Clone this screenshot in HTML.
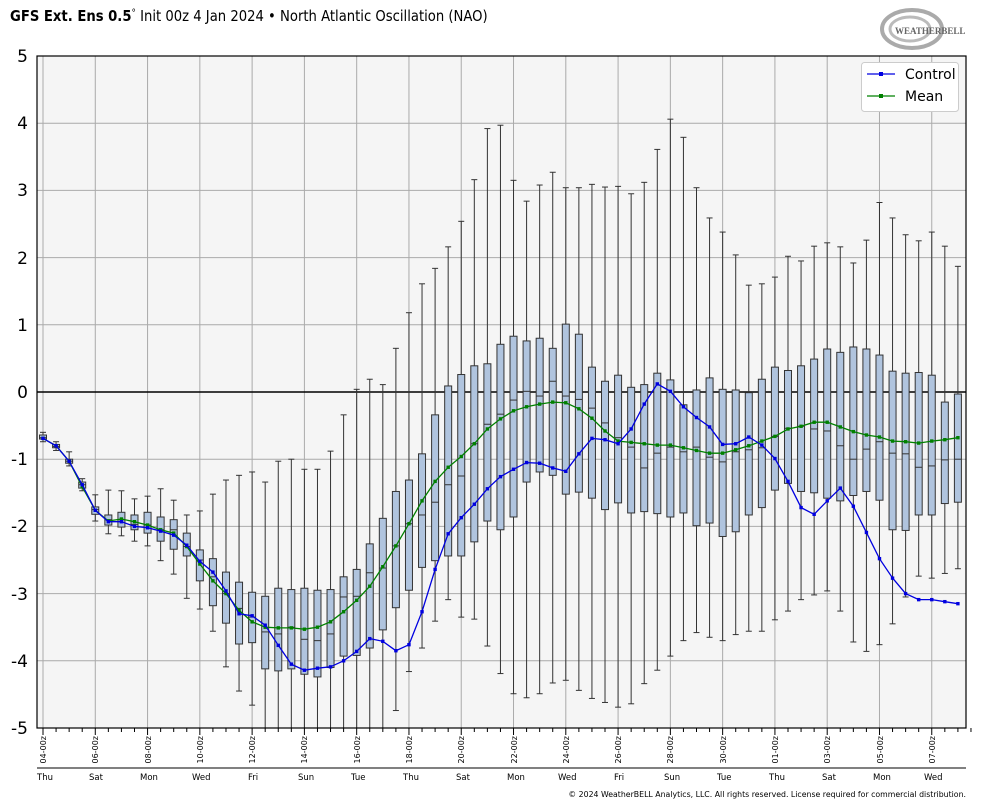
<!DOCTYPE html>
<html><head><meta charset="utf-8"><style>
html,body{margin:0;padding:0;background:#fff;}
svg{display:block;font-family:"DejaVu Sans","Liberation Sans",sans-serif;}
</style></head><body>
<svg id="s" width="984" height="808" viewBox="0 0 984 808" xmlns="http://www.w3.org/2000/svg">
<rect width="984" height="808" fill="#fff"/>
<text transform="translate(10,21) scale(0.88,1)" font-size="15" fill="#000"><tspan font-weight="bold">GFS Ext.  Ens 0.5</tspan><tspan font-size="10" dy="-5">°</tspan><tspan dy="5"> Init 00z 4 Jan 2024 • North Atlantic Oscillation (NAO)</tspan></text>
<g id="logo">
<ellipse cx="912" cy="29" rx="30" ry="19" fill="none" stroke="#aaa" stroke-width="4"/>
<ellipse cx="910" cy="29" rx="20" ry="12" fill="none" stroke="#bbb" stroke-width="3"/>
<text x="895" y="34" font-size="9" font-family="Liberation Serif,serif" fill="#666" font-weight="bold">WEATHERBELL</text>
</g>
<rect x="37" y="56" width="929" height="672" fill="#f5f5f5"/>
<g id="grid" stroke="#aaa" stroke-width="1"></g>
<line x1="37" y1="392" x2="966" y2="392" stroke="#000" stroke-width="1.5"/>
<g id="boxes"></g>
<g id="lines"></g>
<rect x="37" y="56" width="929" height="672" fill="none" stroke="#000" stroke-width="1.2"/>
<g font-size="17" fill="#000" text-anchor="end">
<text x="28" y="62">5</text><text x="28" y="129">4</text><text x="28" y="196">3</text><text x="28" y="264">2</text><text x="28" y="331">1</text><text x="28" y="398">0</text><text x="28" y="465">-1</text><text x="28" y="532">-2</text><text x="28" y="600">-3</text><text x="28" y="667">-4</text><text x="28" y="734">-5</text>
</g>
<g id="xt" stroke="#000"></g>
<line x1="37" y1="768" x2="966" y2="768" stroke="#000" stroke-width="1"/>
<g font-size="8" fill="#000" text-anchor="end">
<text transform="translate(46,736) rotate(-90)">04-00z</text>
<text transform="translate(98,736) rotate(-90)">06-00z</text>
<text transform="translate(151,736) rotate(-90)">08-00z</text>
<text transform="translate(203,736) rotate(-90)">10-00z</text>
<text transform="translate(255,736) rotate(-90)">12-00z</text>
<text transform="translate(307,736) rotate(-90)">14-00z</text>
<text transform="translate(360,736) rotate(-90)">16-00z</text>
<text transform="translate(412,736) rotate(-90)">18-00z</text>
<text transform="translate(464,736) rotate(-90)">20-00z</text>
<text transform="translate(517,736) rotate(-90)">22-00z</text>
<text transform="translate(569,736) rotate(-90)">24-00z</text>
<text transform="translate(621,736) rotate(-90)">26-00z</text>
<text transform="translate(673,736) rotate(-90)">28-00z</text>
<text transform="translate(726,736) rotate(-90)">30-00z</text>
<text transform="translate(778,736) rotate(-90)">01-00z</text>
<text transform="translate(830,736) rotate(-90)">03-00z</text>
<text transform="translate(883,736) rotate(-90)">05-00z</text>
<text transform="translate(935,736) rotate(-90)">07-00z</text>
</g>
<g font-size="8.5" fill="#000">
<text x="37" y="780">Thu</text><text x="89" y="780">Sat</text><text x="140" y="780">Mon</text><text x="192" y="780">Wed</text><text x="248" y="780">Fri</text><text x="298" y="780">Sun</text><text x="351" y="780">Tue</text><text x="403" y="780">Thu</text><text x="456" y="780">Sat</text><text x="507" y="780">Mon</text><text x="558" y="780">Wed</text><text x="614" y="780">Fri</text><text x="664" y="780">Sun</text><text x="717" y="780">Tue</text><text x="769" y="780">Thu</text><text x="822" y="780">Sat</text><text x="873" y="780">Mon</text><text x="924" y="780">Wed</text>
</g>
<text x="966" y="797" font-size="7.8" text-anchor="end" fill="#000">© 2024 WeatherBELL Analytics, LLC. All rights reserved. License required for commercial distribution.</text>
<g id="legend">
<rect x="861.5" y="62.5" width="97" height="49" rx="3" fill="#fff" stroke="#ccc"/>
<line x1="867" y1="74" x2="895" y2="74" stroke="#0000e0" stroke-width="1.3"/><rect x="879" y="72" width="4" height="4" fill="#0000e0"/>
<line x1="867" y1="96" x2="895" y2="96" stroke="#008000" stroke-width="1.3"/><rect x="879" y="94" width="4" height="4" fill="#008000"/>
<text x="905" y="79" font-size="14" fill="#000">Control</text>
<text x="905" y="101" font-size="14" fill="#000">Mean</text>
</g>
</svg>
<script>
var D=[
[-0.6,-0.64,-0.68,-0.7,-0.74,-0.69,-0.69],
[-0.74,-0.78,-0.81,-0.83,-0.87,-0.8,-0.8],
[-0.89,-1.0,-1.03,-1.06,-1.1,-1.03,-1.03],
[-1.29,-1.34,-1.38,-1.43,-1.47,-1.38,-1.41],
[-1.53,-1.71,-1.75,-1.82,-1.92,-1.76,-1.76],
[-1.46,-1.83,-1.9,-1.98,-2.11,-1.93,-1.92],
[-1.47,-1.79,-1.9,-2.01,-2.14,-1.93,-1.89],
[-1.59,-1.83,-1.97,-2.05,-2.22,-2.0,-1.93],
[-1.55,-1.79,-1.98,-2.1,-2.29,-2.02,-1.98],
[-1.44,-1.86,-2.05,-2.22,-2.51,-2.07,-2.05],
[-1.61,-1.9,-2.05,-2.34,-2.71,-2.13,-2.1],
[-1.83,-2.1,-2.3,-2.44,-3.07,-2.28,-2.3],
[-1.77,-2.35,-2.5,-2.81,-3.23,-2.52,-2.56],
[-1.52,-2.48,-2.75,-3.18,-3.56,-2.68,-2.81],
[-1.31,-2.68,-3.0,-3.44,-4.09,-2.96,-3.0],
[-1.24,-2.83,-3.22,-3.75,-4.45,-3.3,-3.25],
[-1.19,-2.98,-3.35,-3.73,-4.66,-3.33,-3.42],
[-1.34,-3.04,-3.57,-4.12,-5.5,-3.47,-3.5],
[-1.03,-2.92,-3.6,-4.15,-5.5,-3.77,-3.51],
[-1.0,-2.94,-3.5,-4.12,-5.5,-4.05,-3.51],
[-1.15,-2.92,-3.68,-4.2,-5.5,-4.14,-3.53],
[-1.15,-2.95,-3.7,-4.24,-5.5,-4.11,-3.5],
[-0.88,-2.94,-3.6,-4.1,-5.5,-4.09,-3.42],
[-0.34,-2.75,-3.05,-3.93,-5.5,-4.0,-3.27],
[0.04,-2.64,-3.04,-3.92,-5.5,-3.86,-3.1],
[0.19,-2.26,-2.69,-3.81,-5.5,-3.67,-2.89],
[0.11,-1.88,-2.62,-3.54,-5.5,-3.71,-2.6],
[0.65,-1.48,-2.29,-3.21,-4.74,-3.85,-2.29],
[1.18,-1.31,-1.96,-2.95,-4.16,-3.76,-1.96],
[1.61,-0.92,-1.83,-2.61,-3.81,-3.27,-1.62],
[1.84,-0.34,-1.64,-2.51,-3.41,-2.64,-1.33],
[2.16,0.09,-1.38,-2.44,-3.09,-2.11,-1.12],
[2.54,0.26,-1.25,-2.44,-3.35,-1.87,-0.96],
[3.16,0.39,-0.77,-2.23,-3.38,-1.67,-0.77],
[3.92,0.42,-0.48,-1.92,-3.78,-1.44,-0.55],
[3.97,0.71,-0.33,-2.05,-4.19,-1.26,-0.4],
[3.15,0.83,-0.12,-1.86,-4.49,-1.15,-0.28],
[2.84,0.76,0.01,-1.34,-4.55,-1.05,-0.22],
[3.08,0.8,-0.06,-1.19,-4.49,-1.06,-0.18],
[3.27,0.65,0.16,-1.24,-4.33,-1.13,-0.15],
[3.04,1.01,-0.06,-1.52,-4.29,-1.18,-0.16],
[3.04,0.86,-0.11,-1.49,-4.44,-0.92,-0.25],
[3.09,0.37,-0.24,-1.58,-4.56,-0.69,-0.39],
[3.05,0.16,-0.46,-1.75,-4.62,-0.71,-0.58],
[3.06,0.25,-0.68,-1.65,-4.69,-0.77,-0.73],
[2.95,0.07,-0.82,-1.8,-4.64,-0.55,-0.75],
[3.12,0.11,-1.13,-1.78,-4.34,-0.18,-0.77],
[3.61,0.28,-0.91,-1.81,-4.14,0.12,-0.79],
[4.06,0.18,-0.82,-1.86,-3.93,0.01,-0.79],
[3.79,-0.19,-0.89,-1.8,-3.7,-0.22,-0.83],
[3.04,0.03,-0.82,-1.99,-3.58,-0.38,-0.87],
[2.59,0.21,-0.97,-1.95,-3.65,-0.52,-0.91],
[2.38,0.04,-1.04,-2.15,-3.7,-0.78,-0.91],
[2.04,0.03,-0.89,-2.08,-3.61,-0.77,-0.86],
[1.59,-0.01,-0.86,-1.83,-3.56,-0.67,-0.8],
[1.61,0.19,-0.83,-1.72,-3.56,-0.79,-0.73],
[1.71,0.37,-0.66,-1.46,-3.39,-0.99,-0.66],
[2.02,0.32,-0.54,-1.36,-3.26,-1.33,-0.55],
[1.95,0.39,-0.51,-1.48,-3.09,-1.72,-0.51],
[2.17,0.49,-0.55,-1.5,-3.02,-1.82,-0.45],
[2.22,0.64,-0.58,-1.58,-2.96,-1.62,-0.45],
[2.16,0.59,-0.8,-1.62,-3.26,-1.43,-0.52],
[1.92,0.67,-1.0,-1.54,-3.72,-1.7,-0.59],
[2.26,0.64,-0.85,-1.48,-3.86,-2.09,-0.64],
[2.82,0.55,-0.74,-1.61,-3.76,-2.48,-0.67],
[2.59,0.31,-0.91,-2.05,-3.45,-2.77,-0.73],
[2.34,0.28,-0.92,-2.06,-3.05,-3.0,-0.74],
[2.25,0.29,-1.12,-1.83,-2.74,-3.09,-0.76],
[2.38,0.25,-1.1,-1.83,-2.77,-3.09,-0.73],
[2.17,-0.15,-1.01,-1.66,-2.7,-3.12,-0.71],
[1.87,-0.03,-1.0,-1.64,-2.63,-3.15,-0.68]];
var NS="http://www.w3.org/2000/svg";
function Y(v){return 392-67.2*v;}
function X(i){return 43+13.07*i;}
function el(p,t,a){var e=document.createElementNS(NS,t);for(var k in a)e.setAttribute(k,a[k]);p.appendChild(e);return e;}
var g=document.getElementById('grid');
for(var v=-4;v<=4;v++)if(v!=0)el(g,'line',{x1:37,x2:966,y1:Y(v),y2:Y(v)});
for(var k=0;k<18;k++){var x=43+26.14*2*k;el(g,'line',{x1:x,x2:x,y1:56,y2:728});}
var xt=document.getElementById('xt');
for(var i=0;i<72;i++){var x=X(i);el(xt,'line',{x1:x,x2:x,y1:728,y2:i%4==0?735:732,'stroke-width':1});}
var b=document.getElementById('boxes');
var cp=el(document.getElementById('s'),'clipPath',{id:'cp'});el(cp,'rect',{x:37,y:56,width:929,height:672});
b.setAttribute('clip-path','url(#cp)');
D.forEach(function(d,i){var x=X(i);
el(b,'line',{x1:x,x2:x,y1:Y(d[0]),y2:Y(d[4]),stroke:'#333','stroke-width':1});
el(b,'line',{x1:x-3,x2:x+3,y1:Y(d[0]),y2:Y(d[0]),stroke:'#333','stroke-width':1});
el(b,'line',{x1:x-3,x2:x+3,y1:Y(d[4]),y2:Y(d[4]),stroke:'#333','stroke-width':1});
var t=Y(d[1]),bt=Y(d[3]);
el(b,'rect',{x:x-3.5,y:t,width:7,height:Math.max(bt-t,1),fill:'#b0c4de',stroke:'#333','stroke-width':1});
el(b,'line',{x1:x-3.5,x2:x+3.5,y1:Y(d[2]),y2:Y(d[2]),stroke:'#333','stroke-width':1});
});
var L=document.getElementById('lines');
function series(c,col){var pts=D.map(function(d,i){return X(i).toFixed(1)+','+Y(d[c]).toFixed(1);}).join(' ');
el(L,'polyline',{points:pts,fill:'none',stroke:col,'stroke-width':1.3});
D.forEach(function(d,i){el(L,'rect',{x:X(i)-1.7,y:Y(d[c])-1.7,width:3.4,height:3.4,fill:col});});}
series(6,'#008000');series(5,'#0000e0');
</script>
</body></html>
